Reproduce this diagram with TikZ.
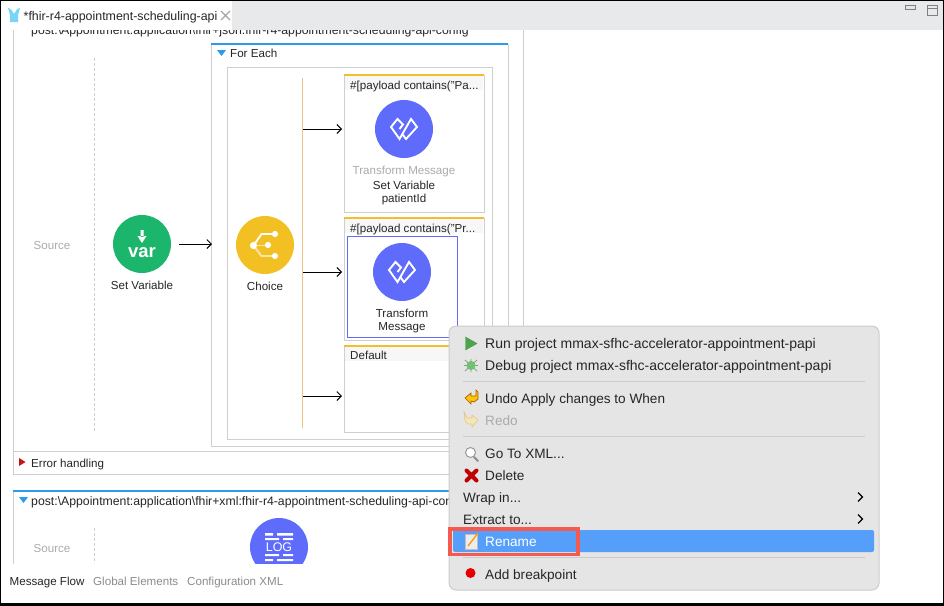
\documentclass[tikz,border=0pt]{standalone}
\usepackage{fontspec}
\setmainfont{Liberation Sans}
\usetikzlibrary{arrows.meta}
\definecolor{tabgrey}{HTML}{E8E9EB}
\definecolor{linegrey}{HTML}{CFCFCF}
\definecolor{flowblue}{HTML}{2C9BEA}
\definecolor{caseyellow}{HTML}{F2BE2E}
\definecolor{spine}{HTML}{EDC27E}
\definecolor{purple}{HTML}{5F6BFA}
\definecolor{vargreen}{HTML}{1BB56B}
\definecolor{choicey}{HTML}{F3C024}
\definecolor{menubg}{HTML}{E5E5E5}
\definecolor{sel}{HTML}{559FFB}
\definecolor{redbox}{HTML}{F45A4F}
\definecolor{greytext}{HTML}{ABABAB}
\tikzset{
  x=1pt,y=-1pt,
  txt/.style={inner sep=0pt,text height=11pt,text depth=2pt,font=\fontsize{11.6}{13.5}\selectfont,text=black!85},
  lbl/.style={txt,anchor=west},
  clbl/.style={txt,anchor=center},
  menut/.style={lbl,text height=12.5pt,font=\fontsize{13.6}{15}\selectfont},
  menulong/.style={lbl,text height=12.5pt,font=\fontsize{14}{15}\selectfont},
  wide/.style={lbl,text height=12pt,font=\fontsize{12.25}{14}\selectfont},
  greyt/.style={text=greytext},
  panel/.style={draw=linegrey,line width=1pt,fill=white},
  casebox/.style={draw=linegrey,line width=1pt,fill=white},
  yellowbar/.style={draw=caseyellow,line width=2pt},
  bluebar/.style={draw=flowblue,line width=2pt},
  comp/.style={circle,minimum size=58pt,inner sep=0pt,draw=none},
  flow/.style={draw=black,line width=.9pt,-{Straight Barb[length=4.5pt,width=9pt]}},
  dashline/.style={draw=linegrey,line width=.8pt,densely dashed},
  sep/.style={draw=black!20,line width=.8pt},
  tmglyph/.pic={\draw[white,line width=1.9pt,line join=miter]
     (-4.5,0)--(-1,-4.5)--(-6.5,-10)--(-13,-2)--(-4.5,10)--(7,-10)--(13,-2)--(2,10)--(-1,6);},
  chev/.style={draw=black,line width=1.1pt},
}
\begin{document}
\begin{tikzpicture}
\useasboundingbox (0,0) rectangle (944,605);
\fill[white] (0,0) rectangle (944,605);
% tab bar
\fill[tabgrey] (232,1) rectangle (944,30);
% first flow (clipped by editor)
\begin{scope}
\clip (0,30) rectangle (944,605);
\draw[panel,fill=none] (13,10) -- (13,451);
\draw[panel,fill=none] (523,10) -- (523,330);
\node[wide] (flowone) at (31,29) {post:\textbackslash Appointment:application\textbackslash fhir+json:fhir-r4-appointment-scheduling-api-config};
\end{scope}
\draw[dashline] (94,58) -- (94,432);
\node[clbl,greyt] (src1) at (52,245) {Source};
% for each
\draw[panel] (211,44) rectangle (508,446);
\draw[bluebar] (211,44) -- (508,44);
\fill[flowblue] (217,50) -- (226,50) -- (221.5,56) -- cycle;
\node[lbl] (foreach) at (230,53) {For Each};
\draw[panel] (227,67) rectangle (492,439);
\draw[draw=spine,line width=1pt] (302,78) -- (302,428);
% cases
\draw[casebox] (344,75) rectangle (484,212);
\fill[black!3] (345,76) rectangle (483,90);
\draw[yellowbar] (344,75) -- (484,75);
\node[lbl] (c1) at (350,84.5) {\#[payload contains("Pa...};
\draw[casebox] (344,218) rectangle (484,340);
\fill[black!3] (345,219) rectangle (483,233);
\draw[yellowbar] (344,218) -- (484,218);
\node[lbl] (c2) at (350,227.5) {\#[payload contains("Pr...};
\draw[casebox] (344,346) rectangle (484,432);
\fill[black!3] (345,347) rectangle (483,361);
\draw[yellowbar] (344,346) -- (484,346);
\node[lbl] (c3) at (350,355) {Default};
\draw[draw=purple,line width=.9pt] (347,236) rectangle (457,337);
% components
\node[comp,fill=vargreen] (setvar) at (142,244) {};
\fill[white] (140.5,230) rectangle (143.5,237) (137.5,236) -- (146.5,236) -- (142,243) -- cycle;
\node[inner sep=0pt,text=white,font=\fontsize{18.5}{19}\selectfont\bfseries] (vartxt) at (142,252.5) {var};
\node[clbl] (setvarl) at (142,285) {Set Variable};
\node[comp,fill=choicey] (choice) at (265,245) {};
\draw[white,line width=1.9pt] (253.5,245.5) -- (261.5,234) -- (275,234);
\draw[white!60!choicey,line width=1.9pt] (253.5,245.5) -- (268,245.5);
\draw[white!60!choicey,line width=1.9pt] (253.5,245.5) -- (261.5,256) -- (275,256);
\fill[white] (253.5,245.5) circle (3.6) (275,234) circle (3.1) (268,245) circle (3.1) (275,256) circle (3.1);
\node[clbl] (choicel) at (265,286) {Choice};
\node[comp,fill=purple] (tm1) at (404,129) {};
\pic at (tm1) {tmglyph};
\node[clbl,greyt] (tm1a) at (404,170) {Transform Message};
\node[clbl] (tm1b) at (404,185) {Set Variable};
\node[clbl] (tm1c) at (404,198) {patientId};
\node[comp,fill=purple] (tm2) at (402,272) {};
\pic at (tm2) {tmglyph};
\node[clbl] (tm2l) at (402,313) {Transform};
\node[clbl] (tm2m) at (402,326) {Message};
% connectors
\coordinate (a1s) at (179,244);
\coordinate (a1e) at (212,244);
\draw[flow] (a1s) -- (a1e);
\coordinate (b1s) at (303,129);
\coordinate (b1e) at (342,129);
\draw[flow] (b1s) -- (b1e);
\coordinate (b2s) at (303,272);
\coordinate (b2e) at (342,272);
\draw[flow] (b2s) -- (b2e);
\coordinate (b3s) at (303,396);
\coordinate (b3e) at (342,396);
\draw[flow] (b3s) -- (b3e);
% error handling
\draw[panel] (13,451) rectangle (500,474);
\fill[red!75!black!90!pink] (19,458) -- (25.5,462) -- (19,466) -- cycle;
\node[lbl] (err) at (31,463) {Error handling};
% second flow
\begin{scope}
\clip (0,485) rectangle (449,563);
\draw[panel,fill=none] (13,491) -- (13,570);
\draw[bluebar] (13,491) -- (449,491);
\fill[flowblue] (19,497) -- (28,497) -- (23.5,503) -- cycle;
\node[wide] (flowtwo) at (31,500) {post:\textbackslash Appointment:application\textbackslash fhir+xml:fhir-r4-appointment-scheduling-api-config};
\draw[dashline] (94,528) -- (94,563);
\node[comp,fill=purple] (logc) at (279,547) {};
\fill[white] (265,533) rectangle (273,535.5) (277,533) rectangle (293,535.5);
\fill[white] (265,538) rectangle (279,540) (283,538) rectangle (293,540);
\fill[white] (265,554) rectangle (279,556) (283,554) rectangle (293,556);
\fill[white] (265,559) rectangle (273,561) (277,559) rectangle (293,561);
\node[inner sep=0pt,text=white,font=\fontsize{12.5}{13}\selectfont] (logt) at (279,547) {LOG};
\end{scope}
\node[clbl,greyt] (src2) at (52,548) {Source};
% bottom tabs
\node[lbl] (mf) at (9.5,581) {Message Flow};
\node[lbl,text=black!45] (ge) at (93,581) {Global Elements};
\node[lbl,text=black!45] (cx) at (187,581) {Configuration XML};
% editor tab
\fill[white] (0,1) rectangle (232,30);
\fill[flowblue!70!cyan!60] (8,8) .. controls (10,8) and (13,11) .. (14,14) .. controls (15,11) and (18,8) .. (20,8) -- (18,15) -- (18,22) -- (10,22) -- (10,15) -- cycle;
\node[wide,font=\fontsize{12.4}{14}\selectfont] (tabt) at (23.5,15.5) {*fhir-r4-appointment-scheduling-api};
\draw[black!35,line width=1.2pt] (221,11) -- (230,20) (230,11) -- (221,20);
% window icons
\draw[black!50,line width=1pt,fill=black!10] (905,5.5) rectangle (915,9);
\draw[black!50,line width=1pt] (927,5.5) rectangle (937,15);
\draw[black!50,line width=1pt] (927,8) -- (937,8);
% context menu
\draw[draw=black!20,fill=menubg,line width=1pt,rounded corners=7pt] (449,326) rectangle (879,590);
\draw[sep] (463,381) -- (865,381);
\draw[sep] (463,436.5) -- (865,436.5);
\draw[sep] (463,557.5) -- (865,557.5);
\fill[sel,rounded corners=2pt] (453,530) rectangle (874,552);
\node[menulong] (m1) at (485,343) {Run project mmax-sfhc-accelerator-appointment-papi};
\node[menulong] (m2) at (485,365) {Debug project mmax-sfhc-accelerator-appointment-papi};
\node[menut] (m3) at (485,398) {Undo Apply changes to When};
\node[menut,greyt] (m4) at (485,420) {Redo};
\node[menut] (m5) at (485,453) {Go To XML...};
\node[menut] (m6) at (485,475) {Delete};
\node[menut] (m7) at (463,497) {Wrap in...};
\node[menut] (m8) at (463,519) {Extract to...};
\node[menut,text=white] (m9) at (485,541) {Rename};
\node[menut] (m10) at (485,574) {Add breakpoint};
\draw[chev] (858,492.5) -- (862.5,497) -- (858,501.5);
\draw[chev] (858,514.5) -- (862.5,519) -- (858,523.5);
% menu icons
\draw[fill=green!50!black!70!white,draw=green!40!black!70!white] (465.5,337) -- (477,343.5) -- (465.5,350) -- cycle;
\draw[green!30!black!30!gray!70!white,line width=.8pt] (465,360)--(477,371) (465,371)--(477,360) (464,365.5)--(478,365.5) (471,359)--(471,372);
\fill[green!40!gray!80] (471,365.5) circle (4.6);
\draw[fill=yellow!60!orange,draw=orange!70!black,line width=.7pt] (465,398) -- (471,393) -- (471,396) -- (476,396) -- (476,390) -- (478,392) -- (478,399) -- (474,402) -- (471,401) -- (471,404) -- cycle;
\draw[fill=yellow!25!menubg,draw=orange!35!menubg,line width=.7pt] (478,420) -- (472,415) -- (472,418) -- (467,418) -- (464,412) -- (465,421) -- (468,424) -- (472,424) -- (472,427) -- cycle;
\draw[black!45,line width=1.8pt,line cap=round] (474,457) -- (478,461);
\draw[fill=white,draw=black!40,line width=1pt] (470.5,452.5) circle (5);
\draw[red!75!black,line width=4pt,line cap=round] (466.5,470.5) -- (476.5,480.5) (476.5,470.5) -- (466.5,480.5);
\fill[white!85!gray] (465,534) rectangle (477,549);
\draw[black!25,line width=.5pt] (465,534) rectangle (477,549);
\draw[orange!80!yellow,line width=1.3pt] (468,546) -- (478,533);
\fill[red!90!black] (470.5,573) circle (5);
% red highlight
\draw[draw=redbox,line width=3.5pt] (450,529) rectangle (578,554.5);
% window frame
\draw[black,line width=2pt] (0,0) -- (944,0) (0,0) -- (0,605);
\draw[black,line width=1.5pt] (943.5,0) -- (943.5,605);
\draw[black,line width=3pt] (0,604.5) -- (944,604.5);
\end{tikzpicture}
\end{document}
